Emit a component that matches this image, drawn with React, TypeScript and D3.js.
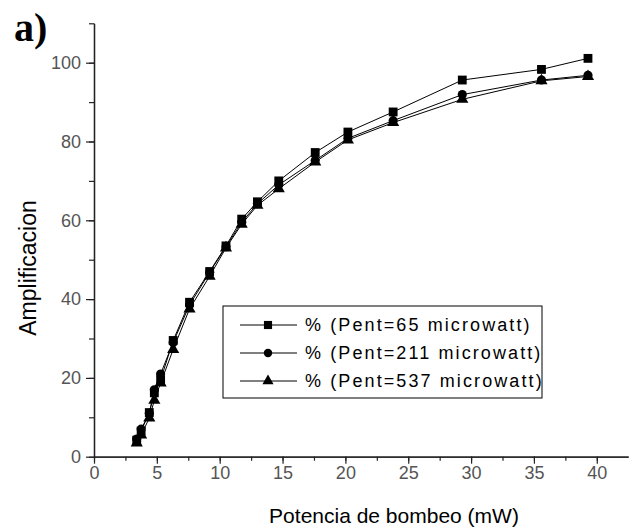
import React, { useEffect, useRef } from 'react'
import { select, axisBottom, axisLeft, scaleLinear, line, symbol, symbolSquare, symbolCircle, symbolTriangle, range } from 'd3'

// pump power (mW), same for the three runs
const power = [3.4, 3.75, 4.4, 4.8, 5.3, 6.3, 7.6, 9.2, 10.5, 11.75, 13.0, 14.7, 17.6, 20.2, 23.8, 29.3, 35.6, 39.3]
const pent65 = [4.2, 6.5, 11.2, 16.2, 19.5, 29.5, 39.2, 47.0, 53.5, 60.3, 64.7, 70.0, 77.2, 82.4, 87.5, 95.6, 98.3, 101.1]
const pent211 = [4.5, 7.0, 11.0, 17.0, 21.0, 29.0, 38.5, 46.8, 53.3, 59.5, 64.2, 69.0, 75.2, 80.8, 85.3, 91.9, 95.6, 96.8]
const pent537 = [3.5, 5.5, 9.8, 14.3, 18.7, 27.2, 37.5, 45.8, 53.0, 59.0, 63.8, 68.0, 74.8, 80.4, 84.8, 90.7, 95.4, 96.5]
const labels = ['% (Pent=65 microwatt)', '% (Pent=211 microwatt)', '% (Pent=537 microwatt)']
const xTicks = [0, 5, 10, 15, 20, 25, 30, 35, 40]
const yTicks = [0, 20, 40, 60, 80, 100]

const font = '"Liberation Sans", Arial, sans-serif'

const App = () => {
  const xRef = useRef(null)
  const yRef = useRef(null)

  const x = scaleLinear().domain([0, 42.5]).range([94, 628.2])
  const y = scaleLinear().domain([0, 110]).range([456.7, 23.3])

  const series = [
    { name: labels[0], values: pent65, shape: symbolSquare, size: 78 },
    { name: labels[1], values: pent211, shape: symbolCircle, size: 66 },
    { name: labels[2], values: pent537, shape: symbolTriangle, size: 64 },
  ]

  const path = line<number>()
    .x((d, i) => x(power[i]))
    .y(d => y(d))

  useEffect(() => {
    const gx = select(xRef.current)
    gx.selectAll('*').remove()
    gx.append('g').call(axisBottom(x).tickValues(range(0, 42.5, 2.5)).tickSize(4).tickSizeOuter(0).tickFormat(() => ''))
    gx.append('g').call(axisBottom(x).tickValues(xTicks).tickSize(7).tickSizeOuter(0).tickPadding(3))
    const gy = select(yRef.current)
    gy.selectAll('*').remove()
    gy.append('g').call(axisLeft(y).tickValues(range(0, 111, 10)).tickSize(5).tickSizeOuter(0).tickFormat(() => ''))
    gy.append('g').call(axisLeft(y).tickValues(yTicks).tickSize(8).tickSizeOuter(0).tickPadding(5))
    ;[gx, gy].forEach(g => {
      g.selectAll('path.domain').attr('stroke', '#222').attr('stroke-width', 1.3)
      g.selectAll('line').attr('stroke', '#222').attr('stroke-width', 1.2)
      g.selectAll('text').attr('font-family', font).attr('font-size', 18).attr('fill', '#555')
    })
  }, [])

  return (
    <svg width={633} height={531} style={{ position: 'absolute', left: 0, top: 0, background: '#fff' }}>
      <text x={14} y={41} fontFamily='"Liberation Serif", "Times New Roman", serif' fontWeight="bold" fontSize={40}>a)</text>
      <g ref={xRef} transform="translate(0,456.7)" />
      <g ref={yRef} transform="translate(94,0)" />
      <text transform="translate(36,268) rotate(-90)" textAnchor="middle" fontFamily={font} fontSize={23}>Amplificacion</text>
      <text x={394} y={523} textAnchor="middle" fontFamily={font} fontSize={21}>Potencia de bombeo (mW)</text>

      {series.map(s => (
        <g key={s.name}>
          <path d={path(s.values) || ''} fill="none" stroke="#000" strokeWidth={1} />
          {s.values.map((v, i) => (
            <path key={i} transform={`translate(${x(power[i])},${y(v)})`} d={symbol().type(s.shape).size(s.size)() || ''} fill="#000" />
          ))}
        </g>
      ))}

      <rect x={223} y={306} width={319} height={92} fill="#fff" stroke="#000" strokeWidth={1} />
      {series.map((s, i) => {
        const cy = 325 + i * 28
        return (
          <g key={'lg' + i}>
            <line x1={240} x2={297} y1={cy} y2={cy} stroke="#000" strokeWidth={1} />
            <path transform={`translate(268,${cy})`} d={symbol().type(s.shape).size(s.size * 0.85)() || ''} fill="#000" />
            <text x={305} y={cy} dy="0.35em" fontFamily={font} fontSize={18} letterSpacing={2.1}>{s.name}</text>
          </g>
        )
      })}
    </svg>
  )
}

export default App
